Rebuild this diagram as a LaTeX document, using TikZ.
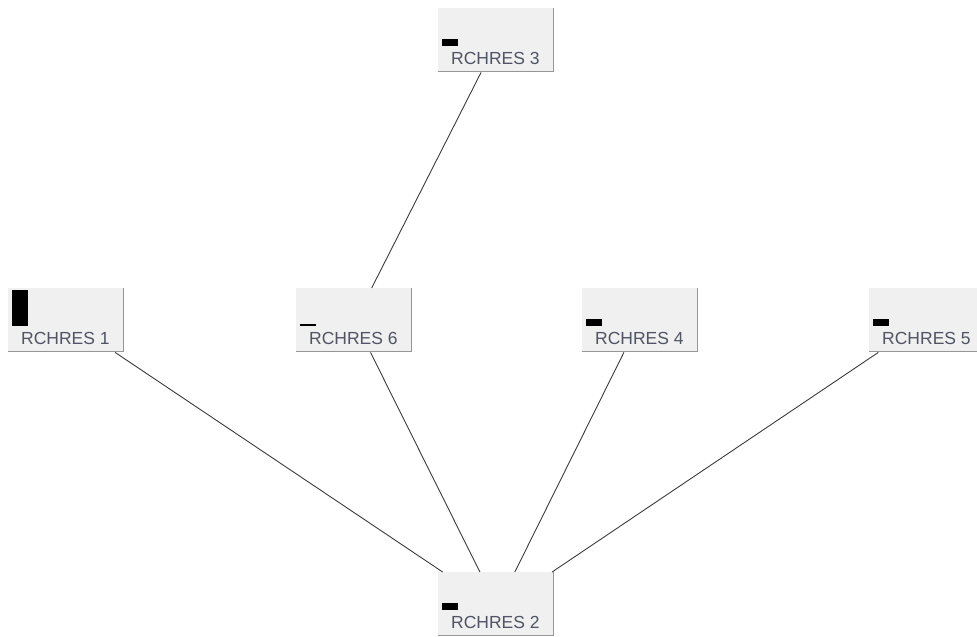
\documentclass[tikz,border=0pt]{standalone}
\usepackage{fontspec}
\setmainfont{Liberation Sans}
\usetikzlibrary{calc}
\definecolor{boxfill}{RGB}{240,240,240}
\definecolor{boxedge}{RGB}{150,150,150}
\definecolor{labelink}{RGB}{80,84,100}
\definecolor{wirecol}{RGB}{60,60,60}
\tikzset{
  resbox/.style={minimum width=116pt, minimum height=64pt, inner sep=0pt,
                 anchor=north west, fill=boxfill},
  reslabel/.style={anchor=base west, inner sep=0pt, text=labelink,
                   font=\fontsize{17.5}{19}\selectfont},
  wire/.style={draw=wirecol, line width=0.9pt},
  boxshade/.style={draw=boxedge, line width=1pt}
}
% #1 name, #2 x, #3 y, #4 label, #5 level bar height
\newcommand{\resnode}[5]{%
  \node[resbox] (#1) at (#2,#3) {};
  \draw[boxshade] ($(#1.south west)+(0,-0.5)$) -- ($(#1.south east)+(-0.5,-0.5)$)
                  -- ($(#1.north east)+(-0.5,0)$);
  \fill[black] ($(#1.north west)+(4,38-#5)$) rectangle ++(16,#5);
  \node[reslabel] (#1-label) at ($(#1.north west)+(13,56)$) {#4};
}
\begin{document}
\begin{tikzpicture}[x=1pt,y=-1pt]
  \useasboundingbox (0,0) rectangle (977,637);
  \clip (0,0) rectangle (977,637);
  \fill[white] (0,0) rectangle (977,637);

  \resnode{r3}{438}{8}{RCHRES 3}{7}
  \resnode{r1}{8}{288}{RCHRES 1}{36}
  \resnode{r6}{296}{288}{RCHRES 6}{2}
  \resnode{r4}{582}{288}{RCHRES 4}{7}
  \resnode{r5}{869}{288}{RCHRES 5}{7}
  \resnode{r2}{438}{572}{RCHRES 2}{7}

  \draw[wire] ($(r3.south west)!0.37!(r3.south east)$) -- ($(r6.north west)!0.65!(r6.north east)$);
  \draw[wire] ($(r1.south west)!0.92!(r1.south east)$) -- ($(r2.north west)!0.04!(r2.north east)$);
  \draw[wire] ($(r6.south west)!0.64!(r6.south east)$) -- ($(r2.north west)!0.36!(r2.north east)$);
  \draw[wire] ($(r4.south west)!0.36!(r4.south east)$) -- ($(r2.north west)!0.66!(r2.north east)$);
  \draw[wire] ($(r5.south west)!0.08!(r5.south east)$) -- ($(r2.north west)!0.98!(r2.north east)$);
\end{tikzpicture}
\end{document}
